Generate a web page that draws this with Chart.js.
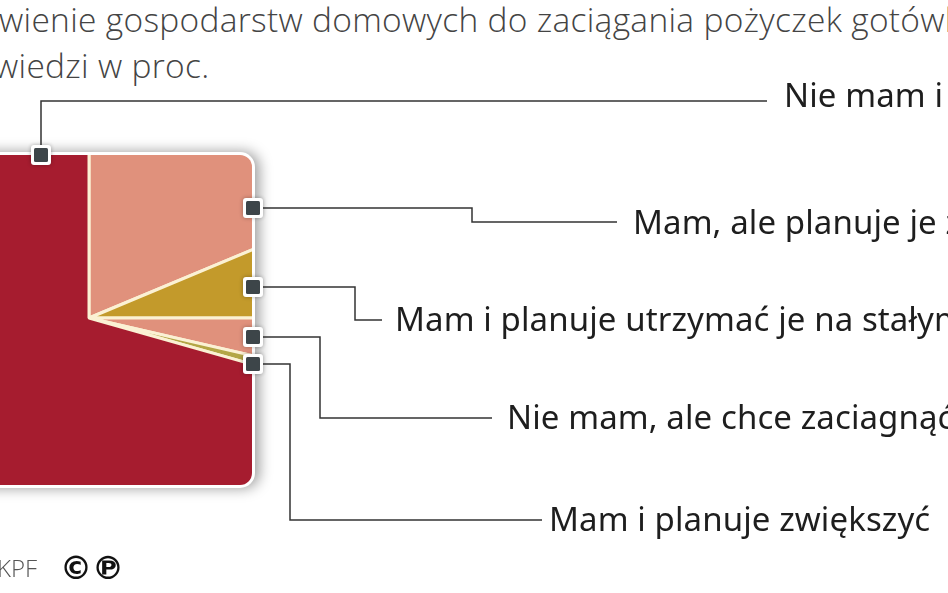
<!DOCTYPE html>
<html>
<head>
<meta charset="utf-8">
<script src="https://cdn.jsdelivr.net/npm/chart.js@4.4.1/dist/chart.umd.min.js"></script>
<style>
  body { margin: 0; width: 948px; height: 593px; overflow: hidden; position: relative; background: #fff; }
  .title { position: absolute; font-family: "Open Sans", sans-serif; font-weight: 300; font-size: 33.5px; line-height: 32px; letter-spacing: 0.3px; color: #444; white-space: nowrap; }
  .lbl { position: absolute; font-family: "Noto Sans", sans-serif; font-size: 33px; line-height: 32px; letter-spacing: 0.1px; color: #1e1e1e; white-space: nowrap; }
  #wrap { position: absolute; left: -200px; top: 0; width: 1148px; height: 593px; }
  .src { position: absolute; font-family: "Open Sans", sans-serif; font-weight: 300; font-size: 24px; line-height: 24px; color: #555; white-space: nowrap; }
  .cp { position: absolute; font-family: "DejaVu Sans", sans-serif; font-weight: bold; font-size: 32px; line-height: 31px; color: #111; white-space: nowrap; }
</style>
</head>
<body>
<div class="title" style="left:-1px; top:3px">wienie gospodarstw domowych do zaciągania pożyczek gotówkowych</div>
<div class="title" style="left:-6px; top:49px">wiedzi w proc.</div>
<div id="wrap"><canvas id="chart" width="1148" height="593"></canvas></div>
<div id="labels"></div>
<div class="src" style="left:-3px; top:556px">KPF</div>
<div class="cp" style="left:60px; top:553px">©℗</div>
<script>
// dane: kolejność zgodnie z ruchem wskazówek zegara od godziny 12
var categories = ['Mam, ale planuje je zmniejszyć', 'Mam i planuje utrzymać je na stałym poziomie', 'Nie mam, ale chce zaciagnąć', 'Mam i planuje zwiększyć', 'Nie mam i nie planuje'];
var values = [18.7, 6.3, 3.6, 0.8, 70.6];
var colors = ['#e0917c', '#c39a2b', '#e0917c', '#b3a646', '#a61c2f'];

var OX = 200; // przesunięcie canvasu względem strony
var box = { left: -76, top: 155, right: 252, bottom: 485, r: 12 };

// odnośniki: marker na krawędzi, łamana linia, pozycja opisu (współrzędne strony)
var callouts = [
    { cat: 4, mx: 41, my: 155, path: [[41, 145], [41, 101], [767, 101]], tx: 784, ty: 96 },
    { cat: 0, mx: 253, my: 208, path: [[263, 208], [472, 208], [472, 222], [617, 222]], tx: 633, ty: 223 },
    { cat: 1, mx: 253, my: 287, path: [[263, 287], [355, 287], [355, 320], [382, 320]], tx: 395, ty: 320 },
    { cat: 2, mx: 253, my: 337, path: [[263, 337], [320, 337], [320, 418], [492, 418]], tx: 507, ty: 418 },
    { cat: 3, mx: 253, my: 364, path: [[263, 364], [290, 364], [290, 520], [542, 520]], tx: 549, ty: 520 }
];

function roundRectPath(ctx, x, y, w, h, r) {
    ctx.beginPath();
    ctx.moveTo(x + r, y);
    ctx.arcTo(x + w, y, x + w, y + h, r);
    ctx.arcTo(x + w, y + h, x, y + h, r);
    ctx.arcTo(x, y + h, x, y, r);
    ctx.arcTo(x, y, x + w, y, r);
    ctx.closePath();
}

var boxClip = {
    id: 'boxClip',
    beforeDatasetsDraw: function(chart) {
        var ctx = chart.ctx;
        var x = box.left + OX, y = box.top, w = box.right - box.left, h = box.bottom - box.top;
        ctx.save();
        ctx.shadowColor = 'rgba(0,0,0,0.4)';
        ctx.shadowBlur = 14;
        ctx.shadowOffsetX = 4;
        ctx.fillStyle = '#fff';
        roundRectPath(ctx, x - 3, y - 3, w + 6, h + 6, box.r + 3);
        ctx.fill();
        ctx.restore();
        ctx.save();
        roundRectPath(ctx, x, y, w, h, box.r);
        ctx.clip();
    },
    afterDatasetsDraw: function(chart) {
        var ctx = chart.ctx;
        ctx.restore();
        ctx.save();
        ctx.strokeStyle = '#333';
        ctx.lineWidth = 1.5;
        callouts.forEach(function(c) {
            ctx.beginPath();
            c.path.forEach(function(p, i) {
                if (i == 0) ctx.moveTo(p[0] + OX, p[1]);
                else ctx.lineTo(p[0] + OX, p[1]);
            });
            ctx.stroke();
        });
        callouts.forEach(function(c) {
            var mx = c.mx + OX;
            ctx.save();
            ctx.shadowColor = 'rgba(0,0,0,0.3)';
            ctx.shadowBlur = 4;
            ctx.fillStyle = '#fff';
            roundRectPath(ctx, mx - 10, c.my - 10, 20, 20, 3);
            ctx.fill();
            ctx.restore();
            ctx.fillStyle = '#3d4549';
            roundRectPath(ctx, mx - 7, c.my - 7, 14, 14, 1.5);
            ctx.fill();
        });
        ctx.restore();
    }
};

// pie o promieniu 240 wycentrowany w (89, 318) na stronie
var cx = 89 + OX, cy = 318, R = 240;
new Chart(document.getElementById('chart'), {
    type: 'pie',
    data: {
        labels: categories,
        datasets: [{
            data: values,
            backgroundColor: colors,
            borderColor: '#fbf1d4',
            borderWidth: 3
        }]
    },
    options: {
        responsive: false,
        animation: false,
        layout: { padding: { left: cx - R, right: 1148 - cx - R, top: cy - R, bottom: 593 - cy - R } },
        plugins: { legend: { display: false }, tooltip: { enabled: false } }
    },
    plugins: [boxClip]
});

var holder = document.getElementById('labels');
callouts.forEach(function(c) {
    var d = document.createElement('div');
    d.className = 'lbl';
    d.textContent = categories[c.cat];
    d.style.left = c.tx + 'px';
    d.style.top = (c.ty - 17) + 'px';
    holder.appendChild(d);
});
</script>
</body>
</html>
